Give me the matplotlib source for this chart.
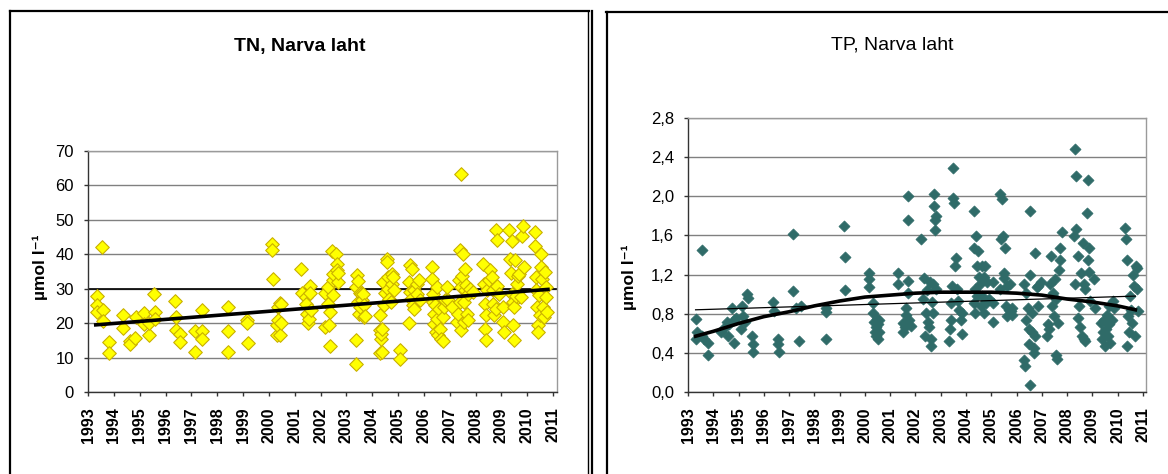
import matplotlib
matplotlib.use('Agg')
import matplotlib.pyplot as plt
from matplotlib.lines import Line2D

plt.rcParams['font.family'] = ['Liberation Sans', 'DejaVu Sans']

# TN, Narva laht (umol/l)
tn_year = [1993.34, 1993.35, 1993.36, 1993.56, 1993.57, 1993.58, 1993.81, 1993.82,
           1994.35, 1994.36, 1994.61, 1994.63, 1994.83, 1994.86, 1995.16, 1995.17,
           1995.35, 1995.36, 1995.56, 1995.58, 1995.59, 1996.38, 1996.39, 1996.4,
           1996.55, 1996.57, 1997.14, 1997.15, 1997.41, 1997.42, 1997.43, 1998.41,
           1998.42, 1998.43, 1999.16, 1999.17, 1999.18, 2000.13, 2000.14, 2000.15,
           2000.3, 2000.32, 2000.35, 2000.37, 2000.42, 2000.43, 2000.45, 2000.47,
           2001.26, 2001.27, 2001.44, 2001.45, 2001.48, 2001.52, 2001.55, 2001.58,
           2001.6, 2001.62, 2002.17, 2002.18, 2002.27, 2002.3, 2002.33, 2002.35,
           2002.37, 2002.45, 2002.47, 2002.49, 2002.5, 2002.58, 2002.62, 2002.64,
           2002.66, 2002.69, 2003.36, 2003.37, 2003.38, 2003.42, 2003.43, 2003.45,
           2003.48, 2003.51, 2003.54, 2003.58, 2003.62, 2003.66, 2003.68, 2003.7,
           2003.72, 2004.29, 2004.3, 2004.31, 2004.33, 2004.35, 2004.36, 2004.38,
           2004.4, 2004.45, 2004.48, 2004.57, 2004.58, 2004.6, 2004.62, 2004.64,
           2004.72, 2004.75, 2004.78, 2004.8, 2004.85, 2005.08, 2005.09, 2005.42,
           2005.43, 2005.45, 2005.47, 2005.5, 2005.54, 2005.57, 2005.6, 2005.63,
           2005.72, 2005.75, 2005.8, 2005.84, 2006.32, 2006.33, 2006.35, 2006.37,
           2006.38, 2006.4, 2006.44, 2006.47, 2006.5, 2006.52, 2006.55, 2006.58,
           2006.62, 2006.68, 2006.72, 2006.75, 2006.78, 2006.8, 2006.88, 2006.92,
           2007.1, 2007.28, 2007.32, 2007.35, 2007.38, 2007.4, 2007.42, 2007.43,
           2007.45, 2007.48, 2007.52, 2007.55, 2007.56, 2007.58, 2007.6, 2007.64,
           2007.66, 2007.7, 2007.72, 2007.8, 2007.88, 2008.3, 2008.33, 2008.36,
           2008.38, 2008.39, 2008.42, 2008.46, 2008.5, 2008.57, 2008.62, 2008.66,
           2008.69, 2008.73, 2008.77, 2008.8, 2008.81, 2008.83, 2008.92, 2009.06,
           2009.07, 2009.08, 2009.29, 2009.32, 2009.36, 2009.4, 2009.42, 2009.44,
           2009.45, 2009.47, 2009.49, 2009.54, 2009.57, 2009.6, 2009.65, 2009.68,
           2009.74, 2009.8, 2009.83, 2009.87, 2010.29, 2010.3, 2010.32, 2010.35,
           2010.36, 2010.4, 2010.42, 2010.45, 2010.49, 2010.53, 2010.55, 2010.57,
           2010.6, 2010.64, 2010.68, 2010.72, 2010.74, 2010.75]
tn_val = [27.9, 25.2, 23.2, 42.1, 23.7, 20.6, 14.5, 11.3,
          22.5, 18.7, 14.8, 14.0, 15.8, 21.8, 23.0, 19.8,
          16.5, 20.0, 28.5, 23.2, 21.3, 26.4, 21.8, 18.1,
          16.9, 14.5, 17.6, 11.6, 23.9, 17.7, 15.5, 24.7,
          17.6, 11.5, 20.8, 20.0, 14.3, 42.9, 41.3, 32.8,
          16.5, 19.4, 24.7, 20.8, 25.8, 16.5, 20.0, 25.6,
          35.7, 28.7, 27.6, 25.5, 22.7, 20.0, 21.3, 30.7,
          28.7, 23.7, 28.7, 18.9, 25.6, 30.5, 19.6, 13.3,
          23.2, 40.9, 32.6, 28.1, 34.4, 40.2, 37.3, 35.5,
          31.9, 34.6, 8.2, 15.2, 30.5, 33.9, 32.1, 26.1,
          22.7, 28.7, 24.7, 28.5, 26.6, 28.4, 21.8, 25.2,
          22.0, 22.5, 17.9, 11.3, 15.5, 16.9, 18.4, 11.6,
          31.9, 25.2, 28.7, 38.7, 37.8, 33.4, 30.0, 27.1,
          26.1, 34.2, 31.5, 33.4, 29.7, 12.1, 9.7, 31.9,
          20.0, 36.8, 29.0, 27.1, 35.8, 25.2, 29.5, 24.2,
          31.5, 28.5, 32.4, 26.6, 36.3, 32.9, 26.1, 28.5,
          22.7, 19.8, 25.2, 17.4, 30.5, 21.3, 16.5, 24.2,
          18.4, 15.5, 14.8, 21.8, 24.7, 26.6, 30.5, 26.6,
          24.7, 20.3, 22.7, 32.4, 41.1, 26.1, 17.9, 63.4,
          30.5, 33.6, 40.2, 26.1, 20.3, 35.8, 29.5, 31.0,
          22.7, 20.8, 28.4, 30.0, 29.0, 37.3, 31.5, 25.5,
          18.4, 15.0, 22.3, 29.5, 32.6, 35.3, 33.4, 25.6,
          29.5, 22.3, 24.2, 47.0, 44.2, 30.7, 28.5, 24.7,
          20.3, 17.4, 47.0, 38.7, 34.6, 44.0, 28.5, 26.1,
          19.4, 15.0, 24.7, 38.4, 27.8, 31.3, 33.6, 34.2,
          27.6, 45.2, 48.1, 36.3, 46.5, 42.3, 33.4, 29.5,
          24.7, 19.4, 17.4, 28.1, 22.3, 40.2, 36.3, 32.9,
          24.7, 21.8, 34.9, 30.5, 27.6, 23.2]
tn_trend_year = [1993.3, 2010.8]
tn_trend_val = [19.5, 29.8]

# TP, Narva laht (umol/l), one block per sampling year
tp_year = [1993.31, 1993.33, 1993.36, 1993.56, 1993.57, 1993.64, 1993.79, 1993.80,
           1994.30, 1994.38, 1994.53, 1994.60, 1994.64, 1994.74, 1994.82, 1994.83, 1994.90,
           1995.10, 1995.13, 1995.17, 1995.25, 1995.34, 1995.38, 1995.53, 1995.56, 1995.59,
           1996.38, 1996.42, 1996.57, 1996.58, 1996.60,
           1997.16, 1997.17, 1997.27, 1997.41, 1997.49,
           1998.45, 1998.46, 1998.47, 1999.19, 1999.20, 1999.21,
           2000.16, 2000.17, 2000.18, 2000.30, 2000.33, 2000.37, 2000.38, 2000.42, 2000.45,
           2000.48, 2000.50, 2000.52, 2000.55, 2000.57,
           2001.31, 2001.32, 2001.49, 2001.52, 2001.57, 2001.61, 2001.64, 2001.69, 2001.70,
           2001.71, 2001.72, 2001.75, 2001.82,
           2002.23, 2002.30, 2002.35, 2002.38, 2002.42, 2002.45, 2002.49, 2002.52, 2002.57,
           2002.60, 2002.61, 2002.65, 2002.68, 2002.71, 2002.74, 2002.75, 2002.76, 2002.77,
           2002.80, 2002.83,
           2003.34, 2003.38, 2003.39, 2003.42, 2003.45, 2003.49, 2003.50, 2003.53, 2003.55,
           2003.62, 2003.66, 2003.70, 2003.72, 2003.79, 2003.83, 2003.86,
           2004.30, 2004.31, 2004.33, 2004.36, 2004.37, 2004.40, 2004.42, 2004.45, 2004.46,
           2004.50, 2004.57, 2004.60, 2004.62, 2004.65, 2004.70, 2004.72, 2004.76, 2004.78,
           2004.83, 2004.90,
           2005.05, 2005.06, 2005.08, 2005.34, 2005.36, 2005.40, 2005.44, 2005.48, 2005.49,
           2005.52, 2005.56, 2005.60, 2005.62, 2005.63, 2005.70, 2005.75, 2005.78, 2005.80,
           2005.83,
           2006.30, 2006.31, 2006.34, 2006.37, 2006.38, 2006.45, 2006.50, 2006.51, 2006.52,
           2006.53, 2006.55, 2006.59, 2006.62, 2006.67, 2006.70, 2006.72, 2006.74, 2006.79,
           2006.83, 2006.86,
           2006.96, 2007.20, 2007.24, 2007.27, 2007.34, 2007.38, 2007.40, 2007.43, 2007.47,
           2007.51, 2007.54, 2007.57, 2007.60, 2007.64, 2007.67, 2007.70, 2007.72, 2007.80,
           2008.27, 2008.30, 2008.33, 2008.37, 2008.37, 2008.41, 2008.44, 2008.47, 2008.51,
           2008.56, 2008.59, 2008.61, 2008.65, 2008.65, 2008.69, 2008.72, 2008.78, 2008.84,
           2008.84, 2008.86, 2008.90, 2008.87,
           2009.07, 2009.12, 2009.34, 2009.37, 2009.41, 2009.46, 2009.49, 2009.52, 2009.56,
           2009.61, 2009.64, 2009.67, 2009.71, 2009.76, 2009.82, 2009.86,
           2010.30, 2010.31, 2010.35, 2010.38, 2010.41, 2010.46, 2010.50, 2010.53, 2010.56,
           2010.61, 2010.65, 2010.68, 2010.71, 2010.75, 2010.75, 2010.79]
tp_val = [0.75, 0.54, 0.61, 1.45, 0.57, 0.54, 0.38, 0.50,
          0.61, 0.64, 0.72, 0.57, 0.69, 0.86, 0.50, 0.74, 0.76,
          0.64, 0.88, 0.78, 0.72, 1.00, 0.96, 0.57, 0.49, 0.41,
          0.92, 0.83, 0.54, 0.49, 0.41,
          1.61, 1.03, 0.86, 0.52, 0.88,
          0.86, 0.82, 0.54, 1.70, 1.38, 1.04,
          1.22, 1.15, 1.07, 0.91, 0.81, 0.72, 0.61, 0.66, 0.57,
          0.75, 0.54, 0.69, 0.61, 0.74,
          1.22, 1.10, 0.71, 0.61, 0.66, 0.79, 0.86, 2.00, 1.76,
          1.13, 1.01, 0.74, 0.67,
          1.56, 0.95, 1.17, 0.57, 0.81, 1.04, 0.72, 0.66, 1.12,
          0.47, 0.54, 0.92, 0.81, 1.10, 2.02, 1.90, 1.66, 1.76,
          1.80, 1.05,
          0.52, 0.64, 0.74, 0.91, 1.08, 2.29, 1.98, 1.93, 1.29,
          1.37, 1.05, 0.93, 0.84, 0.74, 0.59, 0.81,
          1.85, 1.47, 0.91, 1.05, 0.81, 1.59, 1.29, 0.98, 1.44,
          1.18, 1.10, 0.88, 1.29, 0.98, 0.81, 1.18, 1.29, 0.91,
          1.12, 0.95,
          0.72, 0.91, 1.12, 1.05, 2.02, 1.56, 1.97, 1.59, 1.22,
          1.17, 1.47, 0.88, 0.78, 1.08, 0.84, 1.10, 0.83, 0.86,
          0.79,
          1.10, 0.33, 0.27, 1.01, 0.74, 0.86, 0.64, 0.49, 0.07,
          1.85, 1.20, 0.81, 0.61, 0.40, 0.45, 0.57, 1.42, 1.07,
          0.88, 1.08,
          1.12, 0.57, 0.69, 0.64, 1.10, 1.39, 0.88, 1.01, 0.78,
          1.15, 0.95, 0.38, 0.34, 0.71, 1.25, 1.47, 1.35, 1.64,
          1.59, 1.10, 2.48, 2.21, 1.67, 1.39, 0.76, 0.88, 0.66,
          1.22, 0.57, 1.52, 0.54, 1.10, 1.05, 0.52, 1.83, 2.17,
          1.35, 1.47, 0.93, 1.23,
          1.15, 0.86, 0.71, 0.54, 0.61, 0.74, 0.47, 0.64, 0.79,
          0.57, 0.88, 0.69, 0.50, 0.74, 0.93, 0.86,
          1.68, 1.56, 0.47, 1.35, 0.78, 0.61, 0.98, 0.84, 0.71,
          1.20, 1.08, 0.57, 1.29, 1.05, 1.27, 0.83]
tp_poly_year = [1993.3, 1994, 1995, 1996, 1997, 1998, 1999, 2000, 2001, 2002,
                2003, 2004, 2005, 2006, 2007, 2008, 2009, 2010, 2010.7]
tp_poly_val = [0.57, 0.62, 0.70, 0.77, 0.82, 0.88, 0.93, 0.97, 0.99, 1.01,
               1.02, 1.02, 1.02, 1.01, 0.99, 0.95, 0.92, 0.88, 0.84]
tp_lin_year = [1993.3, 2010.7]
tp_lin_val = [0.84, 0.98]

years = list(range(1993, 2012))
tn_ticks = [0, 10, 20, 30, 40, 50, 60, 70]
tp_ticks = [0.0, 0.4, 0.8, 1.2, 1.6, 2.0, 2.4, 2.8]
tp_tick_labels = ['0,0', '0,4', '0,8', '1,2', '1,6', '2,0', '2,4', '2,8']

W, H = 1168, 474
fig = plt.figure(figsize=(W / 100, H / 100), dpi=100)


def box(x0, y0, x1, y1):
    return [x0 / W, 1 - y1 / H, (x1 - x0) / W, (y1 - y0) / H]


def vline(x, y0, y1, lw):
    fig.add_artist(Line2D([x / W, x / W], [1 - y0 / H, 1 - y1 / H], color='black', lw=lw))


def hline(y, x0, x1, lw):
    fig.add_artist(Line2D([x0 / W, x1 / W], [1 - y / H, 1 - y / H], color='black', lw=lw))


# panel frames (Word style)
vline(10, 11, 480, 1.6)
hline(11, 10, 589, 1.6)
vline(588, 11, 480, 1.0)
vline(591.5, 11, 480, 1.6)
vline(606.5, 12, 480, 1.6)
hline(12, 606, 1170, 1.6)


def style(ax, xmax):
    ax.set_xlim(1993, xmax)
    ax.set_xticks(years)
    ax.set_xticklabels([str(y) for y in years], rotation=90, fontsize=11.5, fontweight='bold')
    ax.grid(axis='y', color='#808080', lw=1.0)
    ax.set_axisbelow(True)
    for s in ['top', 'right']:
        ax.spines[s].set_color('#9a9a9a')
        ax.spines[s].set_linewidth(1.0)
    for s in ['left', 'bottom']:
        ax.spines[s].set_color('#333333')
        ax.spines[s].set_linewidth(1.0)
    ax.tick_params(axis='both', direction='out', length=3, width=1, color='#333333')
    ax.tick_params(axis='y', labelsize=12, pad=7)
    ax.tick_params(axis='x', pad=8)


# left: TN
ax1 = fig.add_axes(box(88, 151, 557, 392))
ax1.scatter(tn_year, tn_val, marker='D', s=48, facecolor='#ffff00', edgecolor='#c9b000',
            linewidth=0.8, zorder=3)
ax1.plot(tn_trend_year, tn_trend_val, color='black', lw=2.6, zorder=4)
style(ax1, 2011.15)
ax1.set_ylim(0, 70)
ax1.set_yticks(tn_ticks)
ax1.set_yticklabels([str(t) for t in tn_ticks])
ax1.axhline(30, color='black', lw=1.2, zorder=1)
fig.text(300 / W, 1 - 46 / H, 'TN, Narva laht', ha='center', va='center',
         fontsize=14, fontweight='bold')
fig.text(40 / W, 1 - 267 / H, 'µmol l⁻¹', ha='center', va='center', rotation=90,
         fontsize=12.5, fontweight='bold')

# right: TP
ax2 = fig.add_axes(box(688, 118, 1146, 392))
ax2.scatter(tp_year, tp_val, marker='D', s=32, facecolor='#2f6b68', edgecolor='#2f6b68',
            linewidth=0.5, zorder=3)
ax2.plot(tp_poly_year, tp_poly_val, color='black', lw=2.6, zorder=4)
ax2.plot(tp_lin_year, tp_lin_val, color='black', lw=0.9, zorder=4)
style(ax2, 2011.12)
ax2.set_ylim(0, 2.8)
ax2.set_yticks(tp_ticks)
ax2.set_yticklabels(tp_tick_labels)
fig.text(892 / W, 1 - 45 / H, 'TP, Narva laht', ha='center', va='center',
         fontsize=14)
fig.text(629 / W, 1 - 277 / H, 'µmol l⁻¹', ha='center', va='center', rotation=90,
         fontsize=12.5, fontweight='bold')

fig.savefig('out.png', dpi=100)
